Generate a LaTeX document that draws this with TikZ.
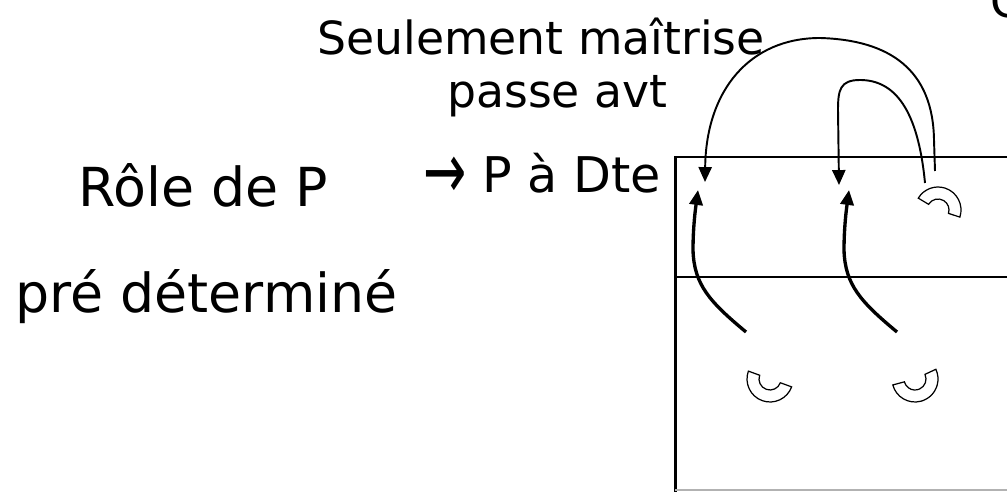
\documentclass[tikz,border=0pt]{standalone}
\usepackage{fontspec}
\setmainfont{DejaVu Sans}
\usetikzlibrary{arrows.meta}

\tikzset{
  big/.style={font=\fontsize{30.6}{36}\selectfont, anchor=base west, inner sep=0pt},
  mid/.style={font=\fontsize{26}{31}\selectfont, anchor=base west, inner sep=0pt},
  field/.style={line width=1.7pt},
  pass/.style={line width=1.1pt, -{Triangle[length=8.5pt, width=7.5pt]}},
  run/.style={line width=1.9pt, -{Triangle[length=8.5pt, width=7.5pt]}},
  player/.style={line width=0.7pt, fill=white},
}

\begin{document}
\begin{tikzpicture}[x=0.02cm, y=-0.02cm]
\useasboundingbox (0,0) rectangle (1007,492);

\node[big] (role) at (78,207) {Rôle de P};
\node[big] (pre) at (15,313) {pré déterminé};
\node[mid] (seul) at (317,55) {Seulement maîtrise};
\node[mid] (avt) at (447,108) {passe avt};
\node[mid, font=\fontsize{28}{33}\selectfont] (dte) at (423,193) {\raisebox{-0.12em}{\scalebox{1.05}[1.6]{→}} P à Dte};
\node[mid] (cut) at (990,18) {C};

% terrain
\draw[field] (1015,157) -- (675,157) -- (675,495);
\draw[field] (675,277) -- (1015,277);
\draw[gray!60, line width=0.8pt] (675,490) -- (1015,490);

\coordinate (p1) at (770,379);
\coordinate (p2) at (915,379);
\coordinate (p3) at (938,210);

\draw[player] (p1) ++(-160:23) arc[start angle=-160, end angle=-340, radius=23] -- ++(-160:12) arc[start angle=-340, end angle=-160, radius=11] -- cycle;
\draw[player] (p2) ++(-195:23) arc[start angle=-195, end angle=-385, radius=23] -- ++(-205:12) arc[start angle=-385, end angle=-195, radius=11] -- cycle;
\draw[player] (p3) ++(18:23) arc[start angle=18, end angle=-149, radius=23] -- ++(31:12) arc[start angle=-149, end angle=18, radius=11] -- cycle;

\coordinate (r1) at (746,332);
\coordinate (r2) at (897,332);
\coordinate (t1) at (698,190);
\coordinate (t2) at (849,190);
\coordinate (a1) at (935,171);
\coordinate (a2) at (925,183);
\coordinate (b1) at (705,182);
\coordinate (b2) at (839,185);

\draw[run] (r1) .. controls (710,302) and (694,285) .. (693,250) .. controls (693,225) and (696,205) .. (t1);
\draw[run] (r2) .. controls (861,302) and (845,285) .. (844,250) .. controls (844,225) and (847,205) .. (t2);

\draw[pass] (a1) -- (934,140) .. controls (933,70) and (890,40) .. (820,38) .. controls (750,38) and (706,90) .. (b1);
\draw[pass] (a2) .. controls (918,110) and (895,80) .. (860,80) .. controls (840,80) and (838,90) .. (838,110) -- (b2);
\end{tikzpicture}
\end{document}
